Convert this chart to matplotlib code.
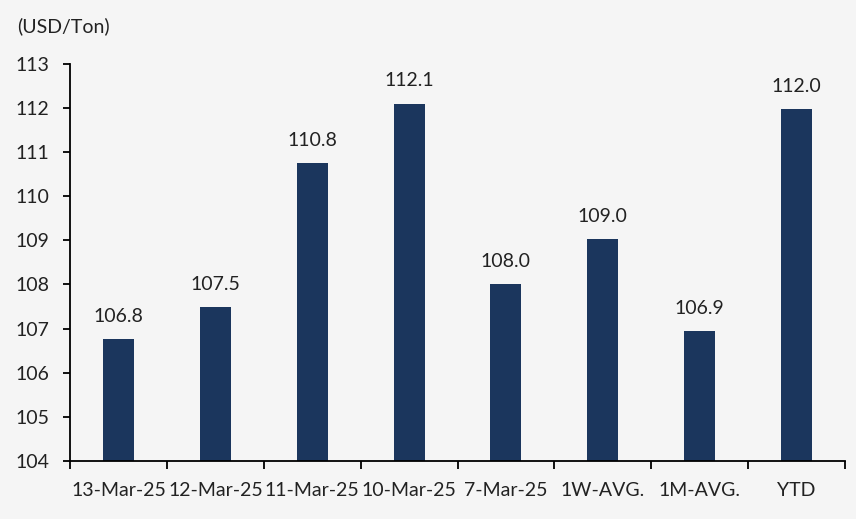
import matplotlib.pyplot as plt
import numpy as np

# === Dati ===
categories = ["13-Mar-25", "12-Mar-25", "11-Mar-25", "10-Mar-25", "7-Mar-25",
              "1W-AVG.", "1M-AVG.", "YTD"]
prices = [106.77, 107.49, 110.76, 112.10, 108.00, 109.03, 106.94, 111.98]
y_ticks = list(range(104, 114))

plt.rcParams['font.family'] = ['Lato', 'DejaVu Sans']

BAR_COLOR = "#1b365d"
BG = "#f5f5f5"
FS = 14

fig = plt.figure(figsize=(8.56, 5.19), dpi=100, facecolor=BG)
ax = fig.add_axes([0.082, 0.112, 0.905, 0.765])
ax.set_facecolor(BG)

x = np.arange(len(categories))
ax.bar(x, prices, width=0.32, color=BAR_COLOR)

for xi, v in zip(x, prices):
    ax.text(xi, v + 0.32, f"{v:.1f}", ha='center', va='bottom', fontsize=FS, color='#222222')

ax.set_ylim(104, 113)
ax.set_xlim(-0.5, len(categories) - 0.5)
ax.set_yticks(y_ticks)
ax.set_yticklabels([str(t) for t in y_ticks], fontsize=FS, color='#222222')

# etichette categorie al centro, tacche ai bordi
ax.set_xticks(x)
ax.set_xticklabels(categories, fontsize=FS, color='#222222')
ax.tick_params(axis='x', which='major', length=0, pad=15)
ax.set_xticks(np.arange(-0.5, len(categories)), minor=True)
ax.tick_params(axis='x', which='minor', length=6, width=1.3, direction='out')
ax.tick_params(axis='y', length=5, width=1.3, direction='out', pad=10)

for s in ['top', 'right']:
    ax.spines[s].set_visible(False)
for s in ['left', 'bottom']:
    ax.spines[s].set_linewidth(1.3)
    ax.spines[s].set_color('black')

fig.text(0.02, 0.95, "(USD/Ton)", fontsize=FS, color='#222222', ha='left', va='center')

plt.savefig("out.png", dpi=100, facecolor=BG)
